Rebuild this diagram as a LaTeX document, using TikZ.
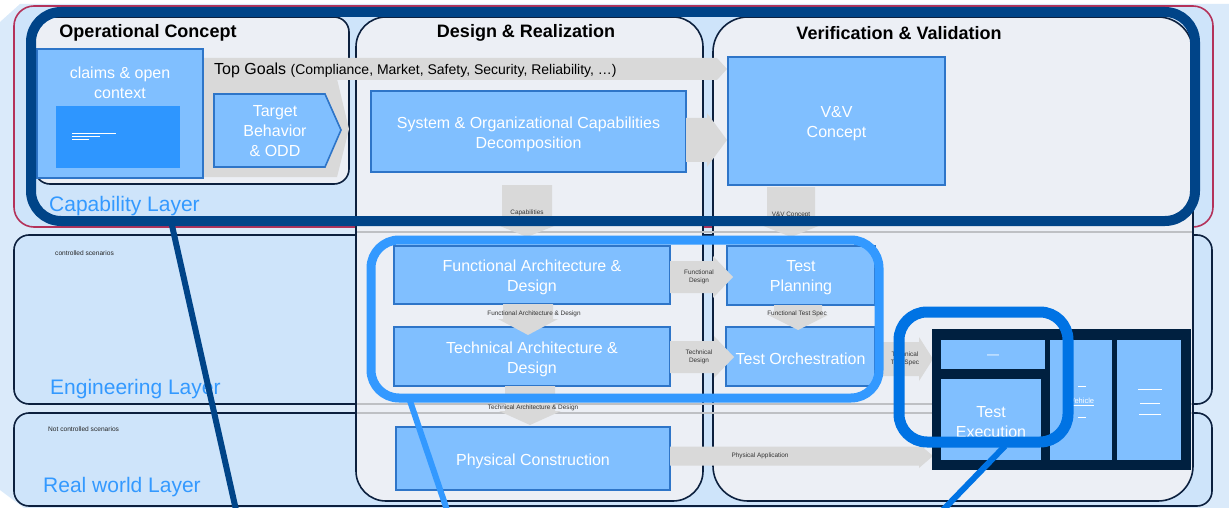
\documentclass[tikz,border=0pt]{standalone}
\usepackage{fontspec}
\setmainfont{Liberation Sans}
\definecolor{bgblue}{RGB}{218,234,250}
\definecolor{layerblue}{RGB}{206,228,250}
\definecolor{colfill}{RGB}{236,239,245}
\definecolor{colborder}{RGB}{12,32,62}
\definecolor{boxfill}{RGB}{128,191,255}
\definecolor{boxborder}{RGB}{46,117,200}
\definecolor{innerblue}{RGB}{46,150,255}
\definecolor{garrowc}{RGB}{217,217,217}
\definecolor{navyband}{RGB}{0,68,136}
\definecolor{lightband}{RGB}{51,153,255}
\definecolor{midband}{RGB}{0,115,228}
\definecolor{testblock}{RGB}{0,32,64}
\definecolor{crimsonc}{RGB}{180,50,90}
\definecolor{labelblue}{RGB}{51,153,255}
\definecolor{sepgray}{RGB}{190,192,196}
\newcommand\garR[7]{% name, xl, xr, cy, bh, hh, hl
  \fill[garrowc] (#2,#4-#5) -- (#3-#7,#4-#5) -- (#3-#7,#4-#6) -- (#3,#4) -- (#3-#7,#4+#6) -- (#3-#7,#4+#5) -- (#2,#4+#5) -- cycle;
  \coordinate (#1) at ({(#2+#3-#7)/2},#4);}
\newcommand\garD[7]{% name, cx, yt, yb, bw, hw, hl
  \fill[garrowc] (#2-#5,#3) -- (#2+#5,#3) -- (#2+#5,#4-#7) -- (#2+#6,#4-#7) -- (#2,#4) -- (#2-#6,#4-#7) -- (#2-#5,#4-#7) -- cycle;
  \coordinate (#1) at (#2,{(#3+#4-#7)/2});}
% rectangle node from corners: name, x1, y1, x2, y2, style, text
\newcommand\rnode[7]{%
  \node[#6, minimum width={#4pt-#2pt}, minimum height={#5pt-#3pt}] (#1) at ({(#2+#4)/2},{(#3+#5)/2}) {};
  \node[btext, yshift=-2.5pt] (#1-text) at (#1.center) {#7};}
\tikzset{
  box/.style={draw=boxborder, fill=boxfill, line width=1.6pt, inner sep=0pt, outer sep=0pt},
  plainbox/.style={fill=boxfill, inner sep=0pt, outer sep=0pt},
  btext/.style={text=white, align=center, font=\fontsize{16}{20}\selectfont, inner sep=0pt},
  head/.style={font=\bfseries\fontsize{18}{20}\selectfont, inner sep=0pt, yshift=-2pt},
  layerlbl/.style={text=labelblue, font=\fontsize{21}{24}\selectfont, anchor=west, inner sep=0pt, yshift=-2.5pt},
  tinylbl/.style={text=black!80, align=center, font=\fontsize{6.4}{7.4}\selectfont, inner sep=0pt},
  smalllbl/.style={text=black!85, font=\fontsize{6.6}{8}\selectfont, anchor=west, inner sep=0pt},
  column/.style={draw=colborder, fill=colfill, line width=1.6pt},
  layer/.style={draw=colborder, fill=layerblue, line width=1.6pt, rounded corners=15pt, inner sep=0pt},
  sepline/.style={draw=sepgray, line width=1.4pt},
}
\begin{document}
\begin{tikzpicture}[x=1pt,y=-1pt]
\useasboundingbox (0,0) rectangle (1229,508);
% background
\fill[bgblue] (0,22) -- (20,4) -- (1229,4) -- (1229,508) -- (24,508) -- (0,490) -- cycle;
% layers
\draw[draw=crimsonc, fill=layerblue, line width=1.6pt, rounded corners=20pt] (14,6) rectangle (1213,227);
\rnode{englayer}{14}{235}{1212}{404}{layer}{}
\rnode{reallayer}{14}{413}{1212}{506}{layer}{}
% columns
\draw[column, rounded corners=15pt] (35,17) rectangle (349,184);
\draw[column, rounded corners=30pt] (356,17) rectangle (703,501);
\draw[column, rounded corners=35pt] (713,17) rectangle (1193,501);
% separator lines
\draw[sepline] (357,232) -- (1192,232);
\draw[sepline] (357,404) -- (1192,404);
\draw[sepline] (357,413) -- (1192,413);
% headings
\node[head] (h1) at (148,31) {Operational Concept};
\node[head] (h2) at (526,31) {Design \& Realization};
\node[head] (h3) at (899,31) {Verification \& Validation};
% layer labels
\node[layerlbl] (caplbl) at (49,204) {Capability Layer};
\node[layerlbl] (englbl) at (50,387) {Engineering Layer};
\node[layerlbl] (reallbl) at (43,485) {Real world Layer};
\node[smalllbl] (ctrl) at (55,253) {controlled scenarios};
\node[smalllbl] (nctrl) at (48,429) {Not controlled scenarios};
% top goals band and chevron
\fill[garrowc] (203,58) -- (717,58) -- (727,69) -- (717,80) -- (203,80) -- cycle;
\fill[garrowc] (203,79) -- (337,79) -- (349,129) -- (337,177) -- (203,177) -- cycle;
\node[anchor=west, inner sep=0pt] (topgoals) at (214,70.5) {\fontsize{16}{18}\selectfont Top Goals \fontsize{14}{16}\selectfont(Compliance, Market, Safety, Security, Reliability, \dots)};
% claims
\rnode{claims}{37}{49}{203}{178}{box}{}
\node[btext] (claimstxt) at (120,83) {claims \& open\\context};
\rnode{ctx}{56}{106}{180}{168}{fill=innerblue, inner sep=0pt}{}
\draw[white, line width=0.5pt] (72,133) -- (116,133) (72,136) -- (100,136) (72,139) -- (89,139);
% target behavior
\draw[box] (214,94) -- (325,94) -- (341,130) -- (325,167) -- (214,167) -- cycle;
\node[btext] (target) at (275,131) {Target\\Behavior\\\& ODD};
% system capabilities
\rnode{sys}{371}{91}{686}{172}{box}{System \& Organizational Capabilities\\Decomposition}
\garR{a1}{686}{727}{140}{22}{27}{20}
\rnode{vv}{728}{57}{945}{185}{box}{V\&V\\Concept}
% down arrows from capability layer
\garD{a2}{527}{185}{237}{25}{32}{13}
\node[tinylbl] (a2l) at (527,213) {Capabilities};
\garD{a3}{791}{187}{237}{24}{30}{12}
\node[tinylbl] (a3l) at (791,215) {V\&V Concept};
% engineering boxes
\rnode{func}{394}{246}{670}{304}{box}{Functional Architecture \&\\Design}
\rnode{tech}{394}{327}{670}{386}{box}{Technical Architecture \&\\Design}
\rnode{plan}{727}{246}{875}{305}{box}{Test\\Planning}
\rnode{orch}{726}{327}{875}{386}{box}{Test Orchestration}
\rnode{phys}{396}{427}{670}{490}{box}{Physical Construction}
% gray arrows engineering
\garD{a4}{528}{304}{335}{25}{30}{16}
\node[tinylbl] (a4l) at (534,314) {Functional Architecture \& Design};
\garD{a5}{798}{305}{330}{24}{30}{15}
\node[tinylbl] (a5l) at (797,314) {Functional Test Spec};
\garR{a6}{670}{733}{277}{16}{21}{20}
\node[tinylbl] (a6l) at (699,277) {Functional\\Design};
\garR{a7}{670}{734}{357}{16}{21}{20}
\node[tinylbl] (a7l) at (699,357) {Technical\\Design};
\garD{a8}{530}{386}{425}{25}{31}{14}
\node[tinylbl] (a8l) at (533,408) {Technical Architecture \& Design};
\garR{a9}{877}{933}{359}{17}{22}{14}
\node[tinylbl] (a9l) at (905,359) {Technical\\Test Spec};
\garR{a10}{670}{933}{456}{9.5}{12}{14}
\node[tinylbl] (a10l) at (760,456) {Physical Application};
% test execution block
\rnode{tblock}{932}{329}{1191}{470}{fill=testblock, inner sep=0pt}{}
\rnode{tsmall}{941}{340}{1045}{369}{plainbox}{\fontsize{12}{12}\selectfont ---}
\rnode{texec}{941}{379}{1041}{460}{plainbox}{Test\\Execution}
\rnode{tveh}{1050}{340}{1112}{460}{plainbox}{}
\rnode{tright}{1117}{340}{1181}{460}{plainbox}{}
\draw[white, line width=0.5pt] (1078,386) -- (1086,386) (1078,417) -- (1086,417);
\node[text=white, inner sep=0pt, font=\fontsize{7.5}{8}\selectfont] (vehicle) at (1082,402) {\underline{Vehicle}};
\draw[white, line width=0.5pt] (1138,389) -- (1162,389) (1140,403) -- (1160,403) (1139,414) -- (1161,414);
% highlight frames
\draw[navyband, line width=10pt, rounded corners=30pt] (31,12) rectangle (1195,221);
\coordinate (navyfoot) at (171,221);
\coordinate (navyend) at (236,510);
\draw[navyband, line width=6pt] (navyfoot) -- (navyend);
\draw[lightband, line width=9pt, rounded corners=28pt] (371,240) rectangle (879,398);
\coordinate (lbfoot) at (409,398);
\coordinate (lbend) at (447,510);
\draw[lightband, line width=6pt] (lbfoot) -- (lbend);
\draw[midband, line width=11pt, rounded corners=28pt] (899,312) rectangle (1068,442);
\coordinate (mbfoot) at (1005,446);
\coordinate (mbend) at (943,510);
\draw[midband, line width=6pt] (mbfoot) -- (mbend);
\end{tikzpicture}
\end{document}
